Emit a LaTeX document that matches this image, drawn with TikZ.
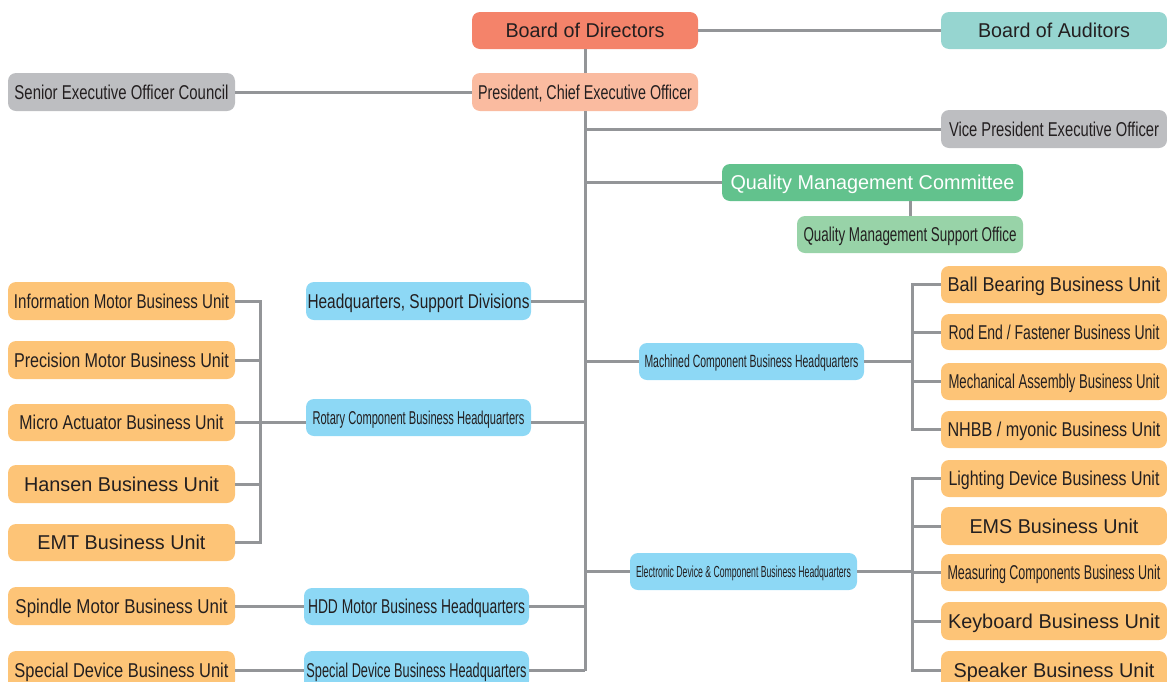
\documentclass[tikz,border=0pt]{standalone}
\usepackage{fontspec}
\setmainfont{Liberation Sans}
\usepackage{graphicx}
\definecolor{txtc}{HTML}{231F20}
\definecolor{linec}{HTML}{939598}
\definecolor{bodc}{HTML}{F4836A}
\definecolor{presc}{HTML}{FABBA0}
\definecolor{boac}{HTML}{96D5D0}
\definecolor{grayc}{HTML}{BDBEC1}
\definecolor{qmcc}{HTML}{62C28D}
\definecolor{qmsoc}{HTML}{98D3A8}
\definecolor{hqc}{HTML}{8DD8F5}
\definecolor{unitc}{HTML}{FDC477}
\newcommand\tw[2]{\resizebox{#1pt}{\height}{#2}}
\begin{document}
\begin{tikzpicture}[x=1pt,y=-1pt,
  box/.style={rectangle, rounded corners=8pt, inner sep=0pt, minimum width=226pt, minimum height=37pt,
    text=txtc, font=\fontsize{20}{22}\selectfont, text height=14.3pt, text depth=0pt},
  rotf/.style={font=\fontsize{18.6}{20}\selectfont, text height=13.3pt},
  machf/.style={font=\fontsize{17.7}{19}\selectfont, text height=12.7pt},
  elecf/.style={font=\fontsize{16}{18}\selectfont, text height=11.4pt},
  unit/.style={box, fill=unitc},
  hq/.style={box, fill=hqc},
  conn/.style={draw=linec, line width=3pt}]
\useasboundingbox (0,0) rectangle (1167,681);
\clip (0,0) rectangle (1167,681);
% top
\node[box, fill=bodc] (bod) at (585,30.5) {\tw{159}{Board of Directors}};
\node[box, fill=boac] (boa) at (1054,30.5) {\tw{152}{Board of Auditors}};
\node[box, fill=grayc, minimum height=38pt, minimum width=227pt] (seoc) at (121.5,92) {\tw{214}{Senior Executive Officer Council}};
\node[box, fill=presc, minimum height=38pt] (pres) at (585,92) {\tw{214}{President, Chief Executive Officer}};
\node[box, fill=grayc, minimum height=38pt] (vp) at (1054,129) {\tw{210}{Vice President Executive Officer}};
\node[box, fill=qmcc, minimum width=301pt, text=white] (qmc) at (872.5,182.5) {\tw{284}{Quality Management Committee}};
\node[box, fill=qmsoc] (qmso) at (910,234.5) {\tw{213}{Quality Management Support Office}};
% headquarters
\node[hq, minimum width=225pt, minimum height=38pt] (hqsd) at (418.5,301) {\tw{222}{Headquarters, Support Divisions}};
\node[hq, rotf, minimum width=225pt] (rot) at (418.5,417.5) {\tw{212}{Rotary Component Business Headquarters}};
\node[hq, minimum width=225pt] (hdd) at (416.5,606.5) {\tw{217}{HDD Motor Business Headquarters}};
\node[hq, minimum width=225pt, minimum height=38pt] (sdhq) at (416.5,670) {\tw{220}{Special Device Business Headquarters}};
\node[hq, machf, minimum width=225pt] (mach) at (751.5,361.5) {\tw{214}{Machined Component Business Headquarters}};
\node[hq, elecf, minimum width=227pt] (elec) at (743.5,571.5) {\tw{215}{Electronic Device \& Component Business Headquarters}};
% left units
\node[unit, minimum width=227pt, minimum height=38pt] (info) at (121.5,301) {\tw{215}{Information Motor Business Unit}};
\node[unit, minimum width=227pt, minimum height=38pt] (prec) at (121.5,360) {\tw{215}{Precision Motor Business Unit}};
\node[unit, minimum width=227pt] (micro) at (121.5,422.5) {\tw{204}{Micro Actuator Business Unit}};
\node[unit, minimum width=227pt, minimum height=38pt] (hansen) at (121.5,484) {\tw{195}{Hansen Business Unit}};
\node[unit, minimum width=227pt] (emt) at (121.5,542.5) {\tw{168}{EMT Business Unit}};
\node[unit, minimum width=227pt, minimum height=38pt] (spindle) at (121.5,606) {\tw{212}{Spindle Motor Business Unit}};
\node[unit, minimum width=227pt, minimum height=38pt] (special) at (121.5,670) {\tw{214}{Special Device Business Unit}};
% right units
\node[unit] (ball) at (1054,284.5) {\tw{213}{Ball Bearing Business Unit}};
\node[unit, minimum height=36pt] (rod) at (1054,332) {\tw{211}{Rod End / Fastener Business Unit}};
\node[unit] (mech) at (1054,381.5) {\tw{211}{Mechanical Assembly Business Unit}};
\node[unit] (nhbb) at (1054,429.5) {\tw{213}{NHBB / myonic Business Unit}};
\node[unit] (light) at (1054,478.5) {\tw{211}{Lighting Device Business Unit}};
\node[unit, minimum height=38pt] (ems) at (1054,526) {\tw{169}{EMS Business Unit}};
\node[unit] (meas) at (1054,572.5) {\tw{213}{Measuring Components Business Unit}};
\node[unit, minimum height=38pt] (key) at (1054,621) {\tw{212}{Keyboard Business Unit}};
\node[unit, minimum height=38pt] (speaker) at (1054,670) {\tw{201}{Speaker Business Unit}};
% trunk coordinates
\coordinate (tbot) at (585,671);
\coordinate (lbr) at (260,0);
\coordinate (rbr) at (912,0);
% connectors
\draw[conn] (bod.east) -- (boa.west);
\draw[conn] (bod.south) -- (pres.north);
\draw[conn] (seoc.east) -- (pres.west);
\draw[conn] (pres.south) -- (tbot);
\draw[conn] (tbot |- vp.west) -- (vp.west);
\draw[conn] (tbot |- qmc.west) -- (qmc.west);
\draw[conn] (qmso.north |- qmc.south) -- (qmso.north);
\draw[conn] (hqsd.east) -- (tbot |- hqsd.east);
\draw[conn] (tbot |- mach.west) -- (mach.west);
\draw[conn] (rot.east |- micro.east) -- (tbot |- micro.east);
\draw[conn] (tbot |- elec.west) -- (elec.west);
\draw[conn] (hdd.east) -- (tbot |- hdd.east);
\draw[conn] (sdhq.east) -- (tbot |- sdhq.east);
\draw[conn] (spindle.east) -- (hdd.west |- spindle.east);
\draw[conn] (special.east) -- (sdhq.west |- special.east);
% left bracket
\draw[conn] (info.east) -- (lbr |- info.east) -- (lbr |- emt.east) -- (emt.east);
\draw[conn] (prec.east) -- (lbr |- prec.east);
\draw[conn] (hansen.east) -- (lbr |- hansen.east);
\draw[conn] (micro.east) -- (rot.west |- micro.east);
% right brackets
\draw[conn] (ball.west) -- (rbr |- ball.west) -- (rbr |- nhbb.west) -- (nhbb.west);
\draw[conn] (rod.west) -- (rbr |- rod.west);
\draw[conn] (mech.west) -- (rbr |- mech.west);
\draw[conn] (mach.east) -- (rbr |- mach.east);
\draw[conn] (light.west) -- (rbr |- light.west) -- (rbr |- speaker.west) -- (speaker.west);
\draw[conn] (ems.west) -- (rbr |- ems.west);
\draw[conn] (meas.west) -- (rbr |- meas.west);
\draw[conn] (key.west) -- (rbr |- key.west);
\draw[conn] (elec.east) -- (rbr |- elec.east);
\end{tikzpicture}
\end{document}
